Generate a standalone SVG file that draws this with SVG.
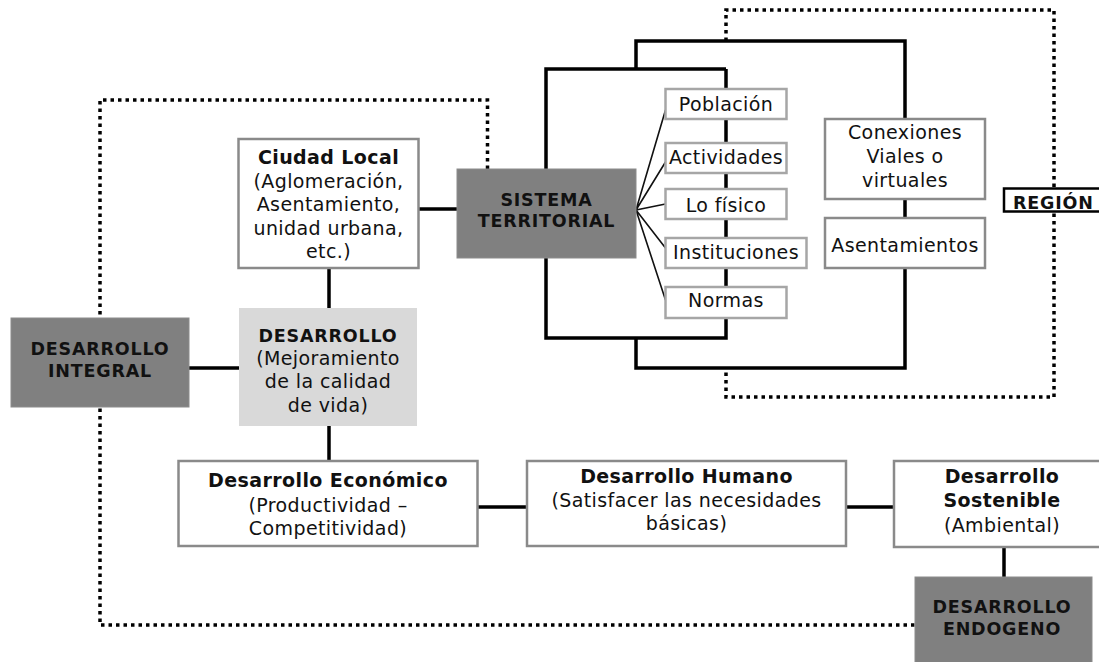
<svg xmlns="http://www.w3.org/2000/svg" width="1099" height="662" viewBox="0 0 1099 662">
<style>
text{font-family:"DejaVu Sans","Verdana",sans-serif;font-size:19px;letter-spacing:0.4px;fill:#111;text-anchor:middle}
.b{font-weight:bold}
.s{font-size:17.5px;letter-spacing:0.8px}
.wbox{fill:#fff;stroke:#8a8a8a;stroke-width:2.5}
.sbox{fill:#fff;stroke:#a6a6a6;stroke-width:2.5}
.dbox{fill:#808080;stroke:#8c8c8c;stroke-width:1}
.lbox{fill:#d9d9d9}
.c{fill:none;stroke:#000;stroke-width:3.5}
.f{fill:none;stroke:#111;stroke-width:1.6}
.d{fill:none;stroke:#000;stroke-width:3.5;stroke-dasharray:3.5 4}
</style>
<g id="connectors">
<path class="d" d="M487.5,169 V100 H100 V625 H915"/>
<path class="d" d="M726,41 V10 H1054 V397 H726 V368"/>
<path class="c" d="M726,69 H546 V338 H726 V69"/>
<path class="c" d="M636,69 V41 H905 V368 H636 V338"/>
<path class="c" d="M418,209 H457"/>
<path class="c" d="M329,268 V308"/>
<path class="c" d="M189,368 H239"/>
<path class="c" d="M329,426 V461"/>
<path class="c" d="M478,507 H527"/>
<path class="c" d="M846,507 H894"/>
<path class="c" d="M1004,547 V577"/>
<path class="f" d="M636,210 L665.5,110 M636,210 L665.5,162 M636,210 L665.5,204 M636,210 L665.5,248 M636,210 L665.5,300"/>
</g>
<g id="ciudad-local">
<rect class="wbox" x="238.5" y="139" width="180" height="129"/>
<text class="b" x="328.5" y="164">Ciudad Local</text>
<text x="328.5" y="188">(Aglomeración,</text>
<text x="328.5" y="211">Asentamiento,</text>
<text x="328.5" y="235">unidad urbana,</text>
<text x="328.5" y="258">etc.)</text>
</g>
<g id="sistema-territorial">
<rect class="dbox" x="457" y="169" width="179" height="89"/>
<text class="b s" x="546.5" y="206">SISTEMA</text>
<text class="b s" x="546.5" y="227">TERRITORIAL</text>
</g>
<g id="poblacion">
<rect class="sbox" x="665.5" y="89" width="121" height="30"/>
<text x="726" y="111">Población</text>
</g>
<g id="actividades">
<rect class="sbox" x="665.5" y="143" width="121" height="30"/>
<text x="726" y="164">Actividades</text>
</g>
<g id="lo-fisico">
<rect class="sbox" x="665.5" y="189" width="121" height="30"/>
<text x="726" y="211.5">Lo físico</text>
</g>
<g id="instituciones">
<rect class="sbox" x="665.5" y="238" width="141" height="30"/>
<text x="736" y="259">Instituciones</text>
</g>
<g id="normas">
<rect class="sbox" x="665.5" y="287" width="121" height="31"/>
<text x="726" y="307">Normas</text>
</g>
<g id="conexiones">
<rect class="wbox" x="825" y="119" width="160" height="80"/>
<text x="905" y="139">Conexiones</text>
<text x="905" y="163">Viales o</text>
<text x="905" y="187">virtuales</text>
</g>
<g id="asentamientos">
<rect class="wbox" x="825" y="218" width="160" height="50"/>
<text x="905" y="251.5">Asentamientos</text>
</g>
<g id="region">
<rect x="1004" y="188.5" width="100" height="23" fill="#fff" stroke="#000" stroke-width="2.5"/>
<text class="b s" x="1013" y="209" style="text-anchor:start">REGIÓN</text>
</g>
<g id="desarrollo-integral">
<rect class="dbox" x="11" y="318" width="178" height="89"/>
<text class="b s" x="100" y="355">DESARROLLO</text>
<text class="b s" x="100" y="377">INTEGRAL</text>
</g>
<g id="desarrollo">
<rect class="lbox" x="239" y="308" width="178" height="118"/>
<text class="b s" x="328" y="342">DESARROLLO</text>
<text x="328" y="365">(Mejoramiento</text>
<text x="328" y="388">de la calidad</text>
<text x="328" y="411.5">de vida)</text>
</g>
<g id="desarrollo-economico">
<rect class="wbox" x="178.5" y="461" width="299" height="85"/>
<text class="b" x="328" y="487">Desarrollo Económico</text>
<text x="328" y="511.5">(Productividad –</text>
<text x="328" y="535">Competitividad)</text>
</g>
<g id="desarrollo-humano">
<rect class="wbox" x="527" y="461" width="319" height="85"/>
<text class="b" x="686.5" y="482.5">Desarrollo Humano</text>
<text x="686.5" y="506.5">(Satisfacer las necesidades</text>
<text x="686.5" y="530">básicas)</text>
</g>
<g id="desarrollo-sostenible">
<rect class="wbox" x="894" y="461" width="210" height="86"/>
<text class="b" x="1002" y="483">Desarrollo</text>
<text class="b" x="1002" y="507">Sostenible</text>
<text x="1002" y="531.5">(Ambiental)</text>
</g>
<g id="desarrollo-endogeno">
<rect class="dbox" x="915" y="577" width="177" height="90"/>
<text class="b s" x="1002" y="613">DESARROLLO</text>
<text class="b s" x="1002" y="635">ENDOGENO</text>
</g>
</svg>
